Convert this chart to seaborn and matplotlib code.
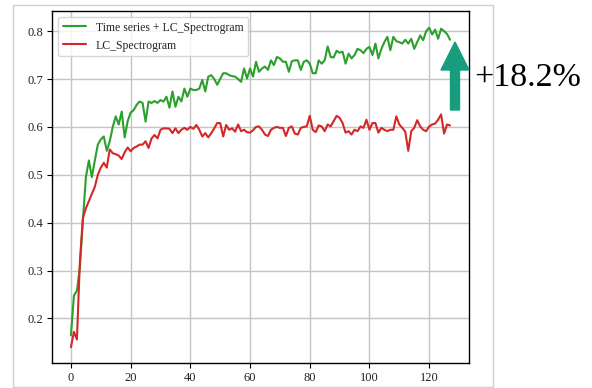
import numpy as np
import pandas as pd
import seaborn as sns
import matplotlib
matplotlib.use("Agg")
import matplotlib.pyplot as plt
from matplotlib.patches import FancyArrow, Rectangle

# ---- data ----
epochs = list(range(128))
green_vals = [
    0.165, 0.248, 0.258, 0.307, 0.405, 0.495, 0.530, 0.495, 0.530, 0.563,
    0.574, 0.580, 0.550, 0.570, 0.600, 0.622, 0.605, 0.632, 0.578, 0.612,
    0.630, 0.635, 0.646, 0.653, 0.650, 0.611, 0.653, 0.650, 0.654, 0.650,
    0.656, 0.653, 0.663, 0.640, 0.674, 0.642, 0.663, 0.653, 0.680, 0.663,
    0.680, 0.677, 0.677, 0.680, 0.698, 0.674, 0.705, 0.708, 0.700, 0.688,
    0.700, 0.712, 0.712, 0.708, 0.706, 0.705, 0.700, 0.694, 0.722, 0.701,
    0.722, 0.705, 0.736, 0.715, 0.722, 0.726, 0.719, 0.739, 0.729, 0.746,
    0.743, 0.736, 0.736, 0.715, 0.737, 0.739, 0.739, 0.719, 0.736, 0.739,
    0.732, 0.712, 0.712, 0.739, 0.732, 0.739, 0.768, 0.746, 0.745, 0.759,
    0.755, 0.757, 0.732, 0.753, 0.743, 0.750, 0.763, 0.760, 0.754, 0.763,
    0.767, 0.750, 0.774, 0.743, 0.763, 0.777, 0.788, 0.760, 0.788, 0.779,
    0.777, 0.774, 0.782, 0.774, 0.784, 0.763, 0.777, 0.791, 0.781, 0.800,
    0.807, 0.793, 0.803, 0.784, 0.805, 0.800, 0.794, 0.782,
]
red_vals = [
    0.140, 0.172, 0.156, 0.320, 0.410, 0.430, 0.445, 0.460, 0.475, 0.500,
    0.515, 0.525, 0.515, 0.553, 0.545, 0.543, 0.540, 0.533, 0.547, 0.557,
    0.549, 0.556, 0.559, 0.563, 0.563, 0.570, 0.556, 0.576, 0.583, 0.576,
    0.594, 0.597, 0.597, 0.596, 0.587, 0.597, 0.587, 0.594, 0.598, 0.594,
    0.600, 0.596, 0.604, 0.594, 0.580, 0.587, 0.578, 0.587, 0.597, 0.608,
    0.608, 0.580, 0.604, 0.594, 0.597, 0.590, 0.605, 0.591, 0.594, 0.589,
    0.588, 0.593, 0.600, 0.601, 0.594, 0.584, 0.581, 0.594, 0.598, 0.600,
    0.598, 0.598, 0.581, 0.598, 0.601, 0.586, 0.584, 0.598, 0.600, 0.601,
    0.623, 0.594, 0.589, 0.603, 0.601, 0.591, 0.605, 0.601, 0.612, 0.623,
    0.619, 0.608, 0.588, 0.591, 0.584, 0.594, 0.591, 0.601, 0.598, 0.615,
    0.594, 0.608, 0.608, 0.588, 0.598, 0.594, 0.591, 0.594, 0.594, 0.622,
    0.605, 0.598, 0.590, 0.550, 0.591, 0.598, 0.614, 0.601, 0.594, 0.591,
    0.601, 0.605, 0.607, 0.615, 0.626, 0.586, 0.605, 0.603,
]
series_names = ["Time series + LC_Spectrogram", "LC_Spectrogram"]
series_colors = ["#2ca02c", "#d62728"]
annotation_text = "+18.2%"

df = pd.DataFrame({
    "epoch": epochs * 2,
    "value": green_vals + red_vals,
    "series": [series_names[0]] * len(epochs) + [series_names[1]] * len(epochs),
})

sns.set_theme(style="whitegrid")
plt.rcParams["font.family"] = ["Liberation Serif", "DejaVu Serif"]

fig = plt.figure(figsize=(5.92, 3.88), dpi=100)
fig.patch.set_facecolor("white")
ax = fig.add_axes([52 / 592, 25 / 388, (469 - 52) / 592, (363 - 11) / 388])

sns.lineplot(data=df, x="epoch", y="value", hue="series",
             palette=dict(zip(series_names, series_colors)),
             linewidth=1.5, ax=ax)

ax.set_xlabel("")
ax.set_ylabel("")
ax.set_xticks([0, 20, 40, 60, 80, 100, 120])
ax.set_yticks([0.2, 0.3, 0.4, 0.5, 0.6, 0.7, 0.8])
ax.set_xlim(-6.35, 133.35)
ax.set_ylim(0.107, 0.842)
ax.grid(True, color="#c4c4c4", linewidth=1.0)
for sp in ax.spines.values():
    sp.set_color("black")
    sp.set_linewidth(1.0)
ax.tick_params(axis="both", which="both", length=3.5, width=0.8, color="black",
               labelsize=9, labelcolor="#222222", pad=3, direction="out",
               bottom=True, left=True)

leg = ax.legend(loc="upper left", fontsize=8.5, frameon=True, framealpha=0.8,
                edgecolor="#cccccc", borderpad=0.4, handlelength=2.0,
                labelspacing=0.5)
for h in leg.get_lines():
    h.set_linewidth(1.5)

# outer light frame of the original figure
fig.patches.append(Rectangle((13 / 592, 1 / 388), (493 - 13) / 592, (383 - 1) / 388,
                             transform=fig.transFigure, fill=False,
                             edgecolor="#d0d0d0", linewidth=1.0))

# teal up-arrow and annotation
arrow = FancyArrow(4.55, 2.78, 0, 0.68, width=0.09, head_width=0.28,
                   head_length=0.28, length_includes_head=True,
                   transform=fig.dpi_scale_trans, color="#179c7d", zorder=10)
fig.patches.append(arrow)
fig.text(474 / 592, (388 - 78) / 388, annotation_text, fontsize=24.5,
         family=["Liberation Serif", "DejaVu Serif"], va="center", ha="left",
         color="black")

fig.savefig("out.png", dpi=100)
